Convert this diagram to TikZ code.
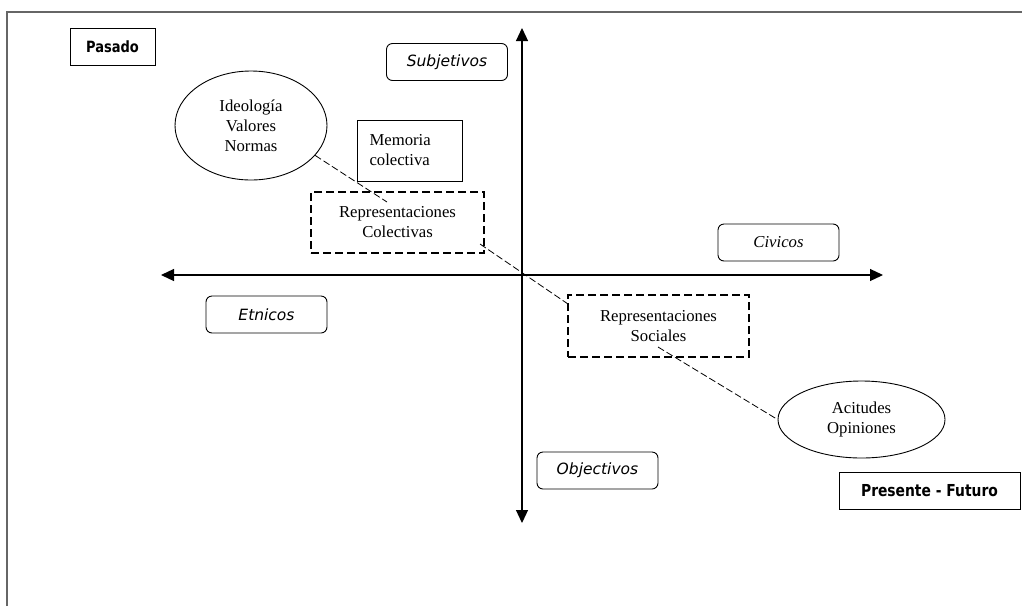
\documentclass[tikz,border=0pt]{standalone}
\usepackage{fontspec}
\setmainfont{Liberation Serif}
\newfontfamily\comicb[FakeStretch=0.84]{DejaVu Sans Bold}
\newfontfamily\comici{DejaVu Sans Oblique}
\usetikzlibrary{shapes.geometric,arrows.meta}
\begin{document}
\begin{tikzpicture}[x=1pt,y=-1pt,
  plainbox/.style={draw, line width=0.9pt, inner sep=0pt},
  labelbox/.style={draw, line width=0.9pt, rounded corners=6pt, inner sep=0pt,
     minimum width=121pt, minimum height=37pt, font=\comici\fontsize{15.5}{18}\selectfont},
  dashbox/.style={draw, line width=1.6pt, dash pattern=on 8pt off 4pt, inner sep=0pt,
     font=\fontsize{16.7}{20}\selectfont, align=center},
  oval/.style={draw, ellipse, line width=0.9pt, inner sep=0pt,
     font=\fontsize{16.7}{20}\selectfont, align=center},
  conn/.style={line width=0.8pt, dash pattern=on 7pt off 3pt},
  axis/.style={line width=1.2pt, {Triangle[length=13pt,width=12pt]}-{Triangle[length=13pt,width=12pt]}}
]
\useasboundingbox (0,0) rectangle (1022,606);
% frame
\draw[line width=1.6pt, draw=black!60] (7,606) -- (7,12) -- (1022,12);

% axes
\coordinate (xl) at (161,275);
\coordinate (xr) at (883,275);
\coordinate (yt) at (522,28);
\coordinate (yb) at (522,523);
\draw[axis] (xl) -- (xr);
\draw[axis] (yt) -- (yb);

% nodes
\node[plainbox, minimum width=85pt, minimum height=37pt, font=\comicb\fontsize{15.5}{18}\selectfont] (pasado) at (112.5,46.5) {Pasado};
\node[labelbox] (subj) at (447,62) {Subjetivos};
\node[oval, minimum width=152pt, minimum height=109pt] (ideo) at (251,125.5) {Ideología\\Valores\\Normas};
\node[plainbox, minimum width=105pt, minimum height=61pt, text width=80pt, align=left,
      font=\fontsize{16.7}{20}\selectfont] (mem) at (409.5,150.5) {Memoria\\colectiva};
\node[dashbox, minimum width=173pt, minimum height=61pt] (repc) at (397.5,222.5) {Representaciones\\Colectivas};
\node[labelbox, font=\itshape\fontsize{16.7}{20}\selectfont] (civ) at (778.5,242.5) {Civicos};
\node[labelbox] (etn) at (266.5,314.5) {Etnicos};
\node[dashbox, minimum width=181pt, minimum height=62pt] (reps) at (658.5,326) {Representaciones\\Sociales};
\node[oval, minimum width=167pt, minimum height=77pt] (acti) at (861.5,419.5) {Acitudes\\Opiniones};
\node[labelbox] (obj) at (597.5,470.5) {Objectivos};
\node[plainbox, minimum width=181pt, minimum height=37pt, font=\comicb\fontsize{16.5}{18}\selectfont] (pres) at (929.5,490.5) {Presente - Futuro};

% dashed connectors
\coordinate (e1) at (387,202);
\coordinate (s2) at (480,244);
\coordinate (e2) at (568,304);
\coordinate (s3) at (658,347);
\draw[conn] (ideo.-25) -- (e1);
\draw[conn] (s2) -- (e2);
\draw[conn] (s3) -- (acti.west);
\end{tikzpicture}
\end{document}
